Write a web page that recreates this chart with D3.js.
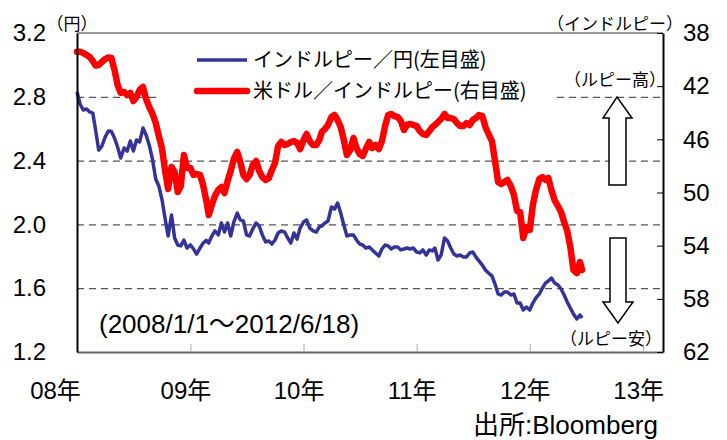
<!DOCTYPE html>
<html>
<head>
<meta charset="utf-8">
<script src="https://cdn.jsdelivr.net/npm/d3@7"></script>
<style>
body { margin: 0; background: #fff; }
svg { display: block; }
.num { font-family: "Liberation Sans Narrow", "Liberation Sans", Arial, "Noto Sans CJK JP", sans-serif; }
.jp { font-family: "Noto Sans CJK JP", sans-serif; }
</style>
</head>
<body>
<svg id="chart" width="727" height="440"></svg>
<script>
// sample dates (shared by both series)
const dates = [
  "2008-01-01","2008-01-11","2008-01-21","2008-02-01","2008-02-11","2008-02-21","2008-03-01","2008-03-11","2008-03-21",
  "2008-04-01","2008-04-11","2008-04-21","2008-05-01","2008-05-11","2008-05-21","2008-06-01","2008-06-11","2008-06-21",
  "2008-07-01","2008-07-11","2008-07-21","2008-08-01","2008-08-11","2008-08-21","2008-09-01","2008-09-11","2008-09-21",
  "2008-10-01","2008-10-11","2008-10-21","2008-11-01","2008-11-11","2008-11-21","2008-12-01","2008-12-11","2008-12-21",
  "2009-01-01","2009-01-11","2009-01-21","2009-02-01","2009-02-11","2009-02-21","2009-03-01","2009-03-11","2009-03-21",
  "2009-04-01","2009-04-11","2009-04-21","2009-05-01","2009-05-11","2009-05-21","2009-06-01","2009-06-11","2009-06-21",
  "2009-07-01","2009-07-11","2009-07-21","2009-08-01","2009-08-11","2009-08-21","2009-09-01","2009-09-11","2009-09-21",
  "2009-10-01","2009-10-11","2009-10-21","2009-11-01","2009-11-11","2009-11-21","2009-12-01","2009-12-11","2009-12-21",
  "2010-01-01","2010-01-11","2010-01-21","2010-02-01","2010-02-11","2010-02-21","2010-03-01","2010-03-11","2010-03-21",
  "2010-04-01","2010-04-11","2010-04-21","2010-05-01","2010-05-11","2010-05-21","2010-06-01","2010-06-11","2010-06-21",
  "2010-07-01","2010-07-11","2010-07-21","2010-08-01","2010-08-11","2010-08-21","2010-09-01","2010-09-11","2010-09-21",
  "2010-10-01","2010-10-11","2010-10-21","2010-11-01","2010-11-11","2010-11-21","2010-12-01","2010-12-11","2010-12-21",
  "2011-01-01","2011-01-11","2011-01-21","2011-02-01","2011-02-11","2011-02-21","2011-03-01","2011-03-11","2011-03-21",
  "2011-04-01","2011-04-11","2011-04-21","2011-05-01","2011-05-11","2011-05-21","2011-06-01","2011-06-11","2011-06-21",
  "2011-07-01","2011-07-11","2011-07-21","2011-08-01","2011-08-11","2011-08-21","2011-09-01","2011-09-11","2011-09-21",
  "2011-10-01","2011-10-11","2011-10-21","2011-11-01","2011-11-11","2011-11-21","2011-12-01","2011-12-11","2011-12-21",
  "2012-01-01","2012-01-11","2012-01-21","2012-02-01","2012-02-11","2012-02-21","2012-03-01","2012-03-11","2012-03-21",
  "2012-04-01","2012-04-11","2012-04-21","2012-05-01","2012-05-11","2012-05-21","2012-06-01","2012-06-11","2012-06-18"
];

// インドルピー/円 (left axis)
const inrJpy = [
  2.83,2.755,2.717,2.724,2.705,2.698,2.592,2.466,2.49,2.548,2.586,2.582,2.542,2.485,2.416,2.479,2.46,2.523,
  2.46,2.529,2.517,2.604,2.56,2.498,2.404,2.285,2.241,2.159,2.04,1.927,2.059,1.915,1.871,1.865,1.902,1.852,
  1.871,1.846,1.814,1.852,1.883,1.9,1.883,1.927,1.959,1.934,2.009,1.952,2.009,1.927,2.015,2.071,2.028,2.021,
  1.934,1.927,1.971,2.009,1.99,1.934,1.89,1.896,1.877,1.902,1.946,1.959,1.952,1.915,1.883,1.946,1.908,1.977,
  2.015,2.028,1.977,1.959,1.952,1.984,1.99,2.009,2.021,2.109,2.096,2.134,2.071,1.996,1.927,1.934,1.934,1.902,
  1.877,1.871,1.852,1.858,1.84,1.821,1.802,1.846,1.871,1.865,1.846,1.858,1.858,1.84,1.846,1.852,1.846,1.852,
  1.827,1.821,1.84,1.808,1.84,1.834,1.852,1.777,1.808,1.915,1.896,1.852,1.814,1.802,1.808,1.796,1.796,1.821,
  1.827,1.796,1.771,1.745,1.714,1.695,1.677,1.626,1.564,1.557,1.576,1.576,1.557,1.564,1.507,1.507,1.463,1.482,
  1.463,1.507,1.539,1.564,1.601,1.633,1.645,1.664,1.633,1.62,1.595,1.557,1.513,1.476,1.438,1.407,1.432,1.413
];

// 米ドル/インドルピー (right axis, inverted)
const usdInr = [
  39.41,39.41,39.50,39.66,39.81,40.11,40.45,40.41,40.18,39.96,39.84,39.88,40.78,41.91,42.51,42.44,42.67,42.51,
  43.12,42.82,42.29,42.06,42.97,43.57,44.09,44.77,45.75,46.65,48.31,49.74,48.08,48.46,49.96,49.51,47.18,48.16,
  48.16,48.68,48.61,48.68,49.44,50.57,51.69,50.94,50.26,49.81,49.59,50.04,49.14,48.38,47.48,46.95,47.71,48.68,
  48.99,48.68,47.93,47.63,48.38,48.84,49.06,48.91,48.31,47.78,46.50,46.20,46.43,46.35,46.20,46.13,46.28,46.73,
  46.05,45.60,46.13,46.43,46.43,46.05,45.45,45.22,44.92,44.32,44.17,44.55,45.07,46.05,47.18,46.80,45.90,46.65,
  47.10,47.25,46.73,46.20,46.65,46.43,46.73,46.13,45.00,44.17,44.09,44.25,44.32,44.62,45.30,44.90,44.85,44.92,
  45.00,45.37,45.60,45.67,45.37,45.07,44.92,44.70,44.47,44.09,44.40,44.40,44.47,44.77,45.00,45.00,44.77,44.92,
  44.55,44.40,44.17,44.25,45.07,45.60,46.13,47.63,49.21,49.36,49.21,49.06,49.51,50.19,51.39,51.47,53.42,52.60,
  52.82,50.94,49.81,48.99,48.84,49.06,48.91,49.81,50.57,51.02,51.47,52.22,52.90,54.10,55.83,56.06,55.23,55.83
];

const leftTicks = [1.2, 1.6, 2.0, 2.4, 2.8, 3.2];
const gridTicks = [1.6, 2.0, 2.4, 2.8];
const rightTicks = [38, 42, 46, 50, 54, 58, 62];
const yearTicks = ["2008-01-01","2009-01-01","2010-01-01","2011-01-01","2012-01-01","2013-01-01"];
const legendLabels = ["インドルピー／円(左目盛)", "米ドル／インドルピー(右目盛)"];
const colors = ["#333399", "#ff0000"];

const parse = d3.timeParse("%Y-%m-%d");
const svg = d3.select("#chart");
const L = 77, R = 663, T = 33, B = 352;

svg.append("rect").attr("width", 727).attr("height", 440).attr("fill", "#fff");

let x = d3.scaleTime().domain([parse("2008-01-01"), parse("2013-03-06")]).range([L, R]);
let yL = d3.scaleLinear().domain([1.2, 3.2]).range([B, T]);
let yR = d3.scaleLinear().domain([62, 38]).range([B, T]);

// dashed gridlines
let grid = svg.append("g")
  .attr("transform", `translate(${L},0)`)
  .call(d3.axisLeft(yL).tickValues(gridTicks).tickSize(-(R - L)).tickFormat(""));
grid.select(".domain").remove();
grid.selectAll("line").attr("stroke", "#555").attr("stroke-width", 1.2).attr("stroke-dasharray", "7,5");

// legend background covers the grid
svg.append("rect").attr("x", 160).attr("y", 40).attr("width", 396).attr("height", 64).attr("fill", "#fff");

// series
let rows = dates.map((d, i) => ({ date: parse(d), a: inrJpy[i], b: usdInr[i] }));

svg.append("path")
  .datum(rows)
  .attr("fill", "none")
  .attr("stroke", colors[1])
  .attr("stroke-width", 6.5)
  .attr("stroke-linejoin", "round")
  .attr("stroke-linecap", "round")
  .attr("d", d3.line().x(d => x(d.date)).y(d => yR(d.b)));

svg.append("path")
  .datum(rows)
  .attr("fill", "none")
  .attr("stroke", colors[0])
  .attr("stroke-width", 3.5)
  .attr("stroke-linejoin", "round")
  .attr("d", d3.line().x(d => x(d.date)).y(d => yL(d.a)));

// frame
svg.append("line").attr("x1", L).attr("x2", R).attr("y1", T).attr("y2", T).attr("stroke", "#999").attr("stroke-width", 2);

// bottom axis
let xAxis = svg.append("g")
  .attr("transform", `translate(0,${B})`)
  .call(d3.axisBottom(x)
    .tickValues(yearTicks.map(parse))
    .tickSize(-8)
    .tickSizeOuter(0)
    .tickPadding(30)
    .tickFormat(d3.timeFormat("%y年")));
xAxis.select(".domain").attr("stroke", "#666").attr("stroke-width", 2);
xAxis.selectAll("line").attr("stroke", "#aaa");
xAxis.selectAll("text").attr("class", "num").attr("font-size", 24).attr("fill", "#000")
  .attr("dx", (d, i) => i === 0 ? -22 : -5);

// left axis
let leftAxis = svg.append("g")
  .attr("transform", `translate(${L},0)`)
  .call(d3.axisLeft(yL).tickValues(leftTicks).tickSize(0).tickPadding(31).tickFormat(d3.format(".1f")));
leftAxis.select(".domain").attr("stroke", "#000").attr("stroke-width", 2);
leftAxis.selectAll("text").attr("class", "num").attr("font-size", 24).attr("fill", "#000");

// right axis
let rightAxis = svg.append("g")
  .attr("transform", `translate(${R},0)`)
  .call(d3.axisRight(yR).tickValues(rightTicks).tickSize(-6).tickSizeOuter(0).tickPadding(20));
rightAxis.select(".domain").attr("stroke", "#000").attr("stroke-width", 2);
rightAxis.selectAll("text").attr("class", "num").attr("font-size", 24).attr("fill", "#000");

// legend
legendLabels.forEach((label, i) => {
  let ly = 60 + i * 31;
  svg.append("line").attr("x1", 197).attr("x2", 247).attr("y1", ly).attr("y2", ly)
    .attr("stroke", colors[i]).attr("stroke-width", i ? 6.5 : 3.5).attr("stroke-linecap", i ? "round" : "butt");
  svg.append("text").attr("class", "jp").attr("x", 253).attr("y", ly + 7).attr("font-size", 20).text(label);
});

// arrows
let arrows = [
  [[617,97],[632,118],[626,118],[626,185],[609,185],[609,118],[603,118]],
  [[610,238],[626,238],[626,302],[633,302],[618,323],[603,302],[610,302]]
];
arrows.forEach(pts => {
  svg.append("polygon").attr("points", pts.join(" ")).attr("fill", "#fff").attr("stroke", "#000").attr("stroke-width", 1.5);
});

// texts
const notes = [
  { t: "（円）", x: 72, y: 30, a: "middle", s: 17, c: "jp" },
  { t: "（インドルピー）", x: 615, y: 30, a: "middle", s: 17, c: "jp" },
  { t: "（ルピー高）", x: 615, y: 86, a: "middle", s: 17, c: "jp" },
  { t: "（ルピー安）", x: 611, y: 345, a: "middle", s: 17, c: "jp" },
  { t: "(2008/1/1～2012/6/18)", x: 99, y: 333, a: "start", s: 26, c: "num" },
  { t: "出所:Bloomberg", x: 658, y: 434, a: "end", s: 26, c: "num" }
];
notes.forEach(n => {
  svg.append("text").attr("class", n.c).attr("x", n.x).attr("y", n.y)
    .attr("text-anchor", n.a).attr("font-size", n.s).text(n.t);
});
</script>
</body>
</html>
